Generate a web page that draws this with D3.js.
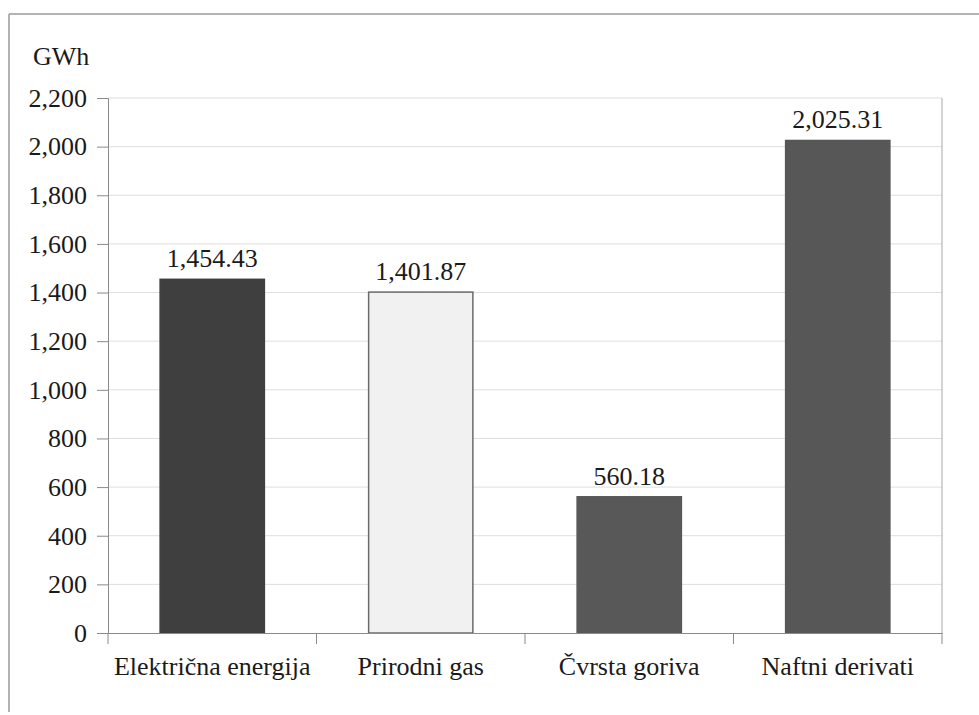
<!DOCTYPE html>
<html>
<head>
<meta charset="utf-8">
<script src="https://cdn.jsdelivr.net/npm/d3@7"></script>
<style>
  body { margin: 0; background: #fff; }
  svg { display: block; }
  svg text { font-family: "Liberation Serif", "Times New Roman", serif; }
</style>
</head>
<body>
<svg id="chart" width="979" height="715"></svg>
<script>
  var categories = ["Električna energija", "Prirodni gas", "Čvrsta goriva", "Naftni derivati"];
  var values = [1454.43, 1401.87, 560.18, 2025.31];
  var yTicks = [0, 200, 400, 600, 800, 1000, 1200, 1400, 1600, 1800, 2000, 2200];
  var barFills = ["#3f3f3f", "#f1f1f1", "#585858", "#575757"];
  var barStrokes = ["#3f3f3f", "#6a6a6a", "#585858", "#575757"];

  var svg = d3.select("#chart");
  var plotLeft = 108, plotRight = 942, plotTop = 98, plotBottom = 633;
  var fontSize = 26;

  // outer frame (only top and left edges are visible in the scan)
  svg.append("line").attr("x1", 9).attr("x2", 979).attr("y1", 14).attr("y2", 14)
    .attr("stroke", "#9a9a9a").attr("stroke-width", 1.5);
  svg.append("line").attr("x1", 9).attr("x2", 9).attr("y1", 14).attr("y2", 712)
    .attr("stroke", "#9a9a9a").attr("stroke-width", 1.5);

  var x = d3.scaleBand()
    .domain(categories)
    .range([plotLeft, plotRight])
    .paddingInner(0.5)
    .paddingOuter(0.25);

  var y = d3.scaleLinear().domain([0, 2200]).range([plotBottom, plotTop]);

  // gridlines
  svg.append("g")
    .selectAll("line")
    .data(yTicks.filter(function(d) { return d > 0; }))
    .enter().append("line")
    .attr("x1", plotLeft).attr("x2", plotRight)
    .attr("y1", function(d) { return y(d); })
    .attr("y2", function(d) { return y(d); })
    .attr("stroke", "#dedede");

  // right plot border
  svg.append("line").attr("x1", plotRight).attr("x2", plotRight).attr("y1", plotTop).attr("y2", plotBottom)
    .attr("stroke", "#a8a8a8");

  // bars
  svg.append("g")
    .selectAll("rect")
    .data(values)
    .enter().append("rect")
    .attr("x", function(d, i) { return x(categories[i]); })
    .attr("y", function(d) { return y(d); })
    .attr("width", x.bandwidth())
    .attr("height", function(d) { return y(0) - y(d); })
    .attr("fill", function(d, i) { return barFills[i]; })
    .attr("stroke", function(d, i) { return barStrokes[i]; })
    .attr("stroke-width", 1.5);

  // value labels
  svg.append("g")
    .selectAll("text")
    .data(values)
    .enter().append("text")
    .attr("x", function(d, i) { return x(categories[i]) + x.bandwidth() / 2; })
    .attr("y", function(d) { return y(d) - 12; })
    .attr("text-anchor", "middle")
    .attr("font-size", fontSize)
    .attr("fill", "#1a1a1a")
    .text(function(d) { return d3.format(",.2f")(d); });

  // y axis
  var yAxis = svg.append("g")
    .attr("transform", "translate(" + plotLeft + ",0)")
    .call(d3.axisLeft(y).tickValues(yTicks).tickSize(11).tickPadding(10).tickFormat(d3.format(",")));
  yAxis.attr("font-family", null).attr("font-size", null);
  yAxis.select(".domain").attr("stroke", "#8a8a8a");
  yAxis.selectAll(".tick line").attr("stroke", "#8a8a8a");
  yAxis.selectAll("text").attr("font-size", fontSize).attr("fill", "#1a1a1a");

  // x axis
  var xAxis = svg.append("g")
    .attr("transform", "translate(0," + plotBottom + ")")
    .call(d3.axisBottom(x).tickSize(0).tickPadding(24));
  xAxis.attr("font-family", null).attr("font-size", null);
  xAxis.select(".domain").attr("stroke", "#8a8a8a");
  xAxis.selectAll("text").attr("font-size", fontSize).attr("fill", "#1a1a1a");

  // category separators on x axis
  var seps = x.domain().map(function(c) { return x(c) - x.step() * x.paddingOuter(); });
  seps.push(plotRight);
  svg.append("g")
    .selectAll("line")
    .data(seps)
    .enter().append("line")
    .attr("x1", function(d) { return d; }).attr("x2", function(d) { return d; })
    .attr("y1", plotBottom).attr("y2", plotBottom + 11)
    .attr("stroke", "#8a8a8a");

  // unit label
  svg.append("text")
    .attr("x", 33).attr("y", 65)
    .attr("font-size", fontSize)
    .attr("fill", "#1a1a1a")
    .text("GWh");
</script>
</body>
</html>
